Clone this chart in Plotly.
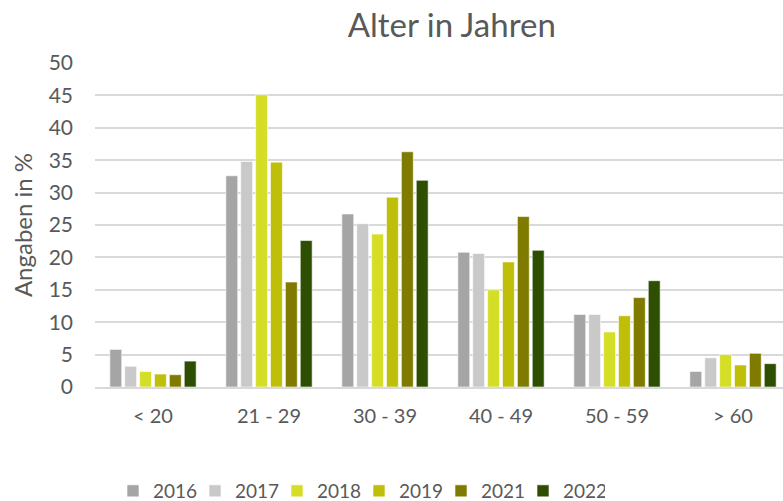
import plotly.graph_objects as go

categories = ["< 20", "21 - 29", "30 - 39", "40 - 49", "50 - 59", "> 60"]
years = ["2016", "2017", "2018", "2019", "2021", "2022"]
values_2016 = [5.8, 32.6, 26.7, 20.8, 11.2, 2.4]
values_2017 = [3.2, 34.8, 25.2, 20.6, 11.2, 4.5]
values_2018 = [2.4, 45.1, 23.6, 15.0, 8.5, 5.0]
values_2019 = [2.0, 34.7, 29.3, 19.3, 11.0, 3.4]
values_2021 = [1.9, 16.2, 36.3, 26.3, 13.8, 5.2]
values_2022 = [4.0, 22.6, 31.9, 21.1, 16.4, 3.6]
series = [values_2016, values_2017, values_2018, values_2019, values_2021, values_2022]
colors = ["#A5A5A5", "#C9C9C9", "#D4DE27", "#BFBF0A", "#7F7B00", "#2E4E02"]

font_family = "Lato, 'Liberation Sans', sans-serif"
text_color = "#595959"

fig = go.Figure()
for name, vals, col in zip(years, series, colors):
    fig.add_trace(go.Bar(
        x=categories, y=vals, name=name,
        marker=dict(color=col, line=dict(color="white", width=0.6)),
    ))

fig.update_layout(
    width=783, height=501,
    margin=dict(l=95, r=0, t=62.5, b=113.5, autoexpand=False),
    paper_bgcolor="white", plot_bgcolor="white",
    barmode="group", bargap=0.23, bargroupgap=0.2,
    font=dict(family=font_family, color=text_color),
    title=dict(text="Alter in Jahren", x=0.577, xanchor="center", xref="container",
               y=0.95, yanchor="middle", yref="container",
               font=dict(size=33, color=text_color, family=font_family)),
    showlegend=True,
    legend=dict(orientation="h", xref="container", yref="container",
                x=113 / 783, xanchor="left", y=0.02, yanchor="middle",
                font=dict(size=19, color=text_color), itemwidth=30,
                entrywidth=37, entrywidthmode="pixels",
                traceorder="normal"),
)
fig.update_xaxes(
    type="category", range=[-0.5, 5.431],
    showgrid=False, showline=True, linecolor="#D9D9D9", linewidth=1.5,
    ticks="", tickfont=dict(size=20, color=text_color), ticklabelstandoff=10,
)
fig.update_yaxes(
    range=[0, 50], dtick=5, tick0=0,
    showgrid=True, gridcolor="#D9D9D9", gridwidth=1.5,
    zeroline=False, showline=False, ticks="",
    tickfont=dict(size=21, color=text_color), ticklabelstandoff=21,
    title=dict(text="Angaben in %", font=dict(size=24, color=text_color), standoff=9),
)

fig.write_html(
    "out.html",
    config={"displayModeBar": False},
    post_script="document.body.style.margin='0';document.body.style.overflow='hidden';",
)
